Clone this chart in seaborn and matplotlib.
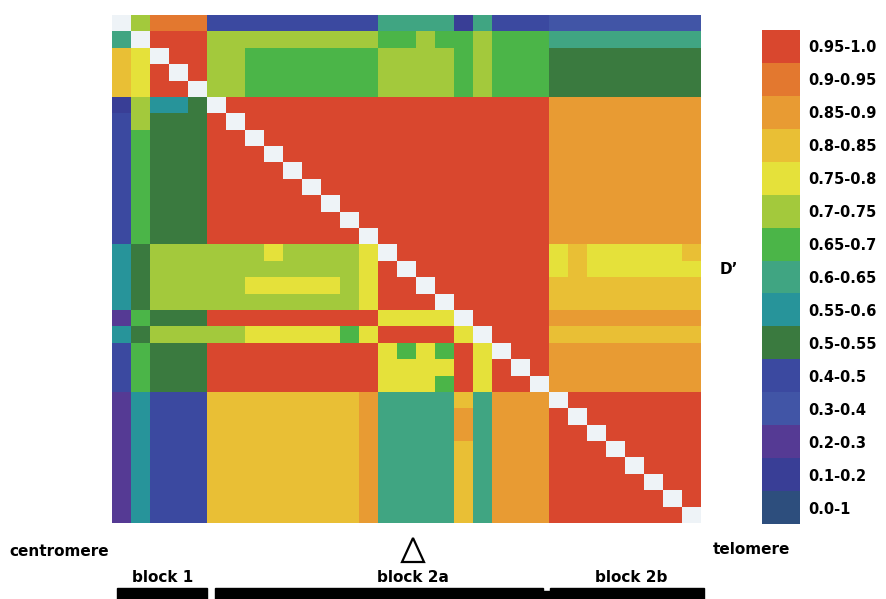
import numpy as np
import pandas as pd
import matplotlib
matplotlib.use("Agg")
import matplotlib.pyplot as plt
from matplotlib.colors import ListedColormap
from matplotlib.patches import Rectangle, Polygon
import seaborn as sns

# D' bins, low -> high
bin_labels = ["0.0-1", "0.1-0.2", "0.2-0.3", "0.3-0.4", "0.4-0.5",
              "0.5-0.55", "0.55-0.6", "0.6-0.65", "0.65-0.7", "0.7-0.75",
              "0.75-0.8", "0.8-0.85", "0.85-0.9", "0.9-0.95", "0.95-1.0"]
bin_colors = ["#2d4e7d", "#393e96", "#553a94", "#4155a6", "#3b49a0",
              "#3a7a3f", "#27949a", "#40a582", "#4bb548", "#a3c93c",
              "#e5e13a", "#e9bf35", "#e89b33", "#e3782f", "#d9472e"]
bin_codes = "0123456789abcde"   # one char per bin, x = diagonal

# pairwise D' bin per SNP pair (31 SNPs)
ld_rows = [
    "x9ddd44444444477771744433333333",
    "7xeee99999999988988988877777777",
    "baxee99888888899998988855555555",
    "baexe99888888899998988855555555",
    "baeex99888888899998988855555555",
    "19665xeeeeeeeeeeeeeeeeecccccccc",
    "49555exeeeeeeeeeeeeeeeecccccccc",
    "48555eexeeeeeeeeeeeeeeecccccccc",
    "48555eeexeeeeeeeeeeeeeecccccccc",
    "48555eeeexeeeeeeeeeeeeecccccccc",
    "48555eeeeexeeeeeeeeeeeecccccccc",
    "48555eeeeeexeeeeeeeeeeecccccccc",
    "48555eeeeeeexeeeeeeeeeecccccccc",
    "48555eeeeeeeexeeeeeeeeecccccccc",
    "65999999a9999axeeeeeeeeabaaaaab",
    "6599999999999aexeeeeeeeabaaaaaa",
    "6599999aaaaa9aeexeeeeeebbbbbbbb",
    "6599999999999aeeexeeeeebbbbbbbb",
    "28555eeeeeeeeeaaaaxeeeecccccccc",
    "6599999aaaaa8aeeeeaxeeebbbbbbbb",
    "48555eeeeeeeeea8a8eaxeecccccccc",
    "48555eeeeeeeeeaaaaeaexecccccccc",
    "48555eeeeeeeeeaaa8eaeexcccccccc",
    "26444bbbbbbbbc7777b7cccxeeeeeee",
    "26444bbbbbbbbc7777c7cccexeeeeee",
    "26444bbbbbbbbc7777c7ccceexeeeee",
    "26444bbbbbbbbc7777b7ccceeexeeee",
    "26444bbbbbbbbc7777b7ccceeeexeee",
    "26444bbbbbbbbc7777b7ccceeeeexee",
    "26444bbbbbbbbc7777b7ccceeeeeexe",
    "26444bbbbbbbbc7777b7ccceeeeeeex",
]

block_labels = ["block 1", "block 2a", "block 2b"]

W, H = 886, 599
vals = np.array([[np.nan if ch == "x" else bin_codes.index(ch) for ch in row]
                 for row in ld_rows], dtype=float)
df = pd.DataFrame(vals)

cmap = ListedColormap(bin_colors)
plt.rcParams["font.family"] = ["DejaVu Sans"]

fig = plt.figure(figsize=(W / 100, H / 100), dpi=100)
ax = fig.add_axes([112 / W, 1 - 523 / H, 589 / W, 508 / H])
ax.set_facecolor("#eef3f7")
cax = fig.add_axes([762 / W, 1 - 524 / H, 38 / W, 494 / H])

sns.heatmap(df, ax=ax, cmap=cmap, vmin=-0.5, vmax=len(bin_labels) - 0.5,
            cbar=True, cbar_ax=cax, xticklabels=False, yticklabels=False,
            cbar_kws={"ticks": np.arange(len(bin_labels))})

cbar = ax.collections[0].colorbar
cbar.outline.set_visible(False)
cbar.ax.set_yticklabels(bin_labels, fontsize=10.5, fontweight="bold")
cbar.ax.tick_params(length=0, pad=6)
cbar.ax.set_ylabel("")
fig.text(729 / W, 1 - 270 / H, "D\u2019", fontsize=11, fontweight="bold",
         ha="center", va="center")

# annotation layer in pixel coordinates
ov = fig.add_axes([0, 0, 1, 1])
ov.set_xlim(0, W)
ov.set_ylim(H, 0)
ov.axis("off")

ov.text(59, 551, "centromere", fontsize=11, fontweight="bold", ha="center", va="center")
ov.text(751, 550, "telomere", fontsize=11, fontweight="bold", ha="center", va="center")
ov.add_patch(Polygon([[413, 538], [402, 562], [424, 562]], closed=True,
                     fill=False, edgecolor="black", lw=1.6))

for lab, cx in zip(block_labels, [163, 413, 631]):
    ov.text(cx, 577, lab, fontsize=11, fontweight="bold", ha="center", va="center")

ov.add_patch(Rectangle((117, 588), 90, 14, color="black"))
ov.add_patch(Rectangle((215, 588), 328, 14, color="black"))
ov.add_patch(Rectangle((543, 591), 7, 8, color="black"))
ov.add_patch(Rectangle((550, 588), 154, 14, color="black"))

fig.savefig("out.png", dpi=100)
